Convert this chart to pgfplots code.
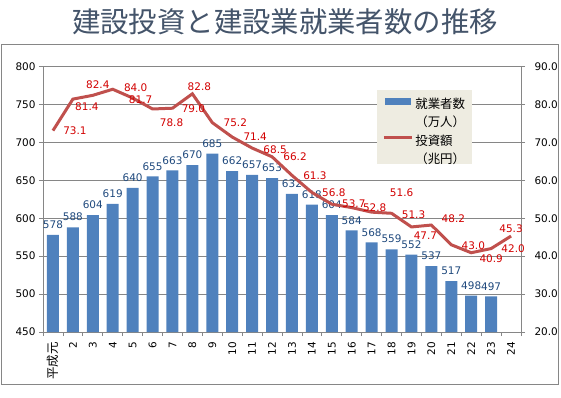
\documentclass[border=0pt]{standalone}
\usepackage{pgfplots}
\usepackage{pgfplotstable}
\pgfplotsset{compat=1.18}
\usepackage{fontspec}
\setmainfont{DejaVu Sans}
\newfontfamily\jp{Noto Sans CJK JP}
\definecolor{barblue}{RGB}{79,129,189}
\definecolor{linered}{RGB}{192,80,77}
\definecolor{gridgray}{RGB}{134,134,134}
\definecolor{titlecol}{RGB}{68,84,106}
\definecolor{lblblue}{RGB}{31,73,125}
\definecolor{lblred}{RGB}{210,0,0}
\definecolor{legbg}{RGB}{238,236,225}

\pgfplotstableread{
x y
1 578
2 588
3 604
4 619
5 640
6 655
7 663
8 670
9 685
10 662
11 657
12 653
13 632
14 618
15 604
16 584
17 568
18 559
19 552
20 537
21 517
22 498
23 497
}\workers

\pgfplotstableread{
x y dx dy
1 73.1 22 0
2 81.4 14 -8
3 82.4 5 10.5
4 84.0 23 1.5
5 81.7 8 -1.5
6 78.8 19 -14
7 79.0 21 0
8 82.8 7 7
9 75.2 23 0
10 71.4 23 0
11 68.5 23 -2
12 66.2 23 0
13 61.3 23 0
14 56.8 22 0
15 53.7 22 0
16 52.8 23 0
17 51.6 30 19
18 51.3 22 -1
19 47.7 14 -9
20 48.2 22 6
21 43.0 22 -1
22 40.9 20 -6
23 42.0 22 0
24 45.3 0 7
}\invest

\begin{document}
\begin{tikzpicture}[x=1bp,y=1bp]
\useasboundingbox (0,0) rectangle (561,397);
\draw[gridgray, line width=1bp] (1,13) rectangle (558.5,353);
\node[font=\jp\fontsize{28.5}{31}\selectfont, text=titlecol] at (285,375) {建設投資と建設業就業者数の推移};

\begin{axis}[
  at={(43bp,65bp)}, anchor=south west,
  scale only axis, width=478bp, height=265.5bp,
  ybar, bar width=12bp,
  xmin=0.5, xmax=24.5, ymin=450, ymax=800,
  ytick={450,500,...,800},
  xtick={1,...,24},
  xticklabels={{\jp\fontsize{12.5}{14}\selectfont 平成元},2,3,4,5,6,7,8,9,10,11,12,13,14,15,16,17,18,19,20,21,22,23,24},
  minor xtick={0.5,1.5,...,24.5},
  ymajorgrids,
  major grid style={gridgray, line width=0.8bp},
  axis line style={gridgray, line width=0.8bp},
  tick align=outside, tick pos=left,
  major tick length=4bp, minor tick length=4bp,
  major x tick style={draw=none},
  minor x tick style={gridgray, line width=0.8bp},
  ytick style={gridgray, line width=0.8bp},
  ticklabel style={font=\fontsize{10.5}{12}\selectfont},
  /pgf/number format/assume math mode=true,
  xticklabel style={rotate=90, anchor=east, inner sep=0pt, font=\fontsize{10.5}{12}\selectfont},
  xticklabel shift=6bp,
  nodes near coords,
  every node near coord/.append style={text=lblblue, font=\fontsize{10.5}{12}\selectfont, anchor=south, inner sep=0pt, yshift=6bp},
]
\addplot[fill=barblue, draw=none] table[x=x,y=y] {\workers};
\end{axis}

\begin{axis}[
  at={(43bp,65bp)}, anchor=south west,
  scale only axis, width=478bp, height=265.5bp,
  xmin=0.5, xmax=24.5, ymin=20, ymax=90,
  axis y line*=right, axis x line=none,
  ytick={20,30,...,90},
  axis line style={gridgray, line width=0.8bp},
  tick align=outside, major tick length=4bp,
  ytick style={gridgray, line width=0.8bp},
  yticklabel style={font=\fontsize{10.5}{12}\selectfont, xshift=6bp, /pgf/number format/.cd, fixed, fixed zerofill, precision=1},
  /pgf/number format/assume math mode=true,
  legend style={at={(rel axis cs:0.699,0.911)}, anchor=north west, fill=legbg, draw=none,
    font=\jp\fontsize{12.5}{15}\selectfont, inner xsep=5bp, inner ysep=6bp, row sep=12bp},
  legend cell align=left,
]
\addlegendimage{legend image code/.code={\fill[barblue] (0bp,5bp) rectangle (25bp,11bp);}}
\addlegendentry{\begin{tabular}{@{}l@{}}就業者数\\[3bp]（万人）\end{tabular}}
\addplot[color=linered, line width=3bp,
  legend image code/.code={\draw[linered, line width=3bp] (-1bp,8bp) -- (27bp,8bp);},
  nodes near coords, point meta=explicit symbolic,
  visualization depends on={\thisrow{dx} \as \dx},
  visualization depends on={\thisrow{dy} \as \dy},
  every node near coord/.style={anchor=center, inner sep=0pt, xshift=\dx bp, yshift=\dy bp, text=lblred, font=\fontsize{10.5}{12}\selectfont},
] table[x=x,y=y,meta=y] {\invest};
\addlegendentry{\begin{tabular}{@{}l@{}}投資額\\[3bp]（兆円）\end{tabular}}
\end{axis}
\end{tikzpicture}
\end{document}
